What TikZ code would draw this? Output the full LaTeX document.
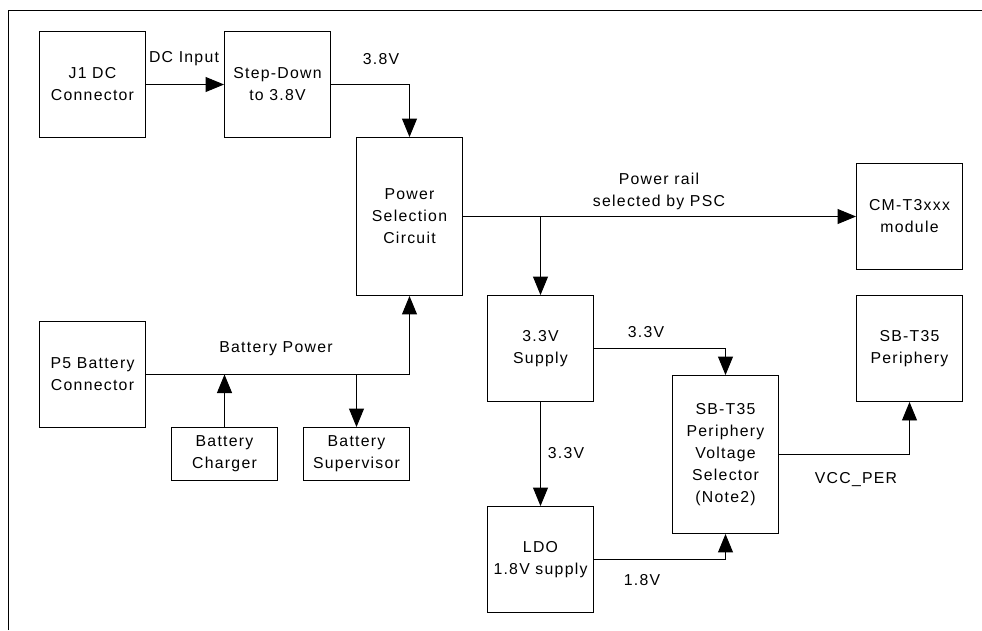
\documentclass[tikz,border=0pt]{standalone}
\usepackage{fontspec}
\setmainfont{Liberation Sans}[LetterSpace=8]
\usepackage{tikz}
\usetikzlibrary{arrows.meta, positioning}

\begin{document}
\begin{tikzpicture}[
  x=0.02cm, y=-0.02cm,
  font=\fontsize{9}{12.5}\selectfont,
  blk/.style={rectangle, draw, line width=0.55pt, minimum width=2.12cm, minimum height=2.12cm, align=center, inner sep=0pt},
  tallblk/.style={blk, minimum height=3.16cm},
  flatblk/.style={blk, minimum height=1.06cm},
  lbl/.style={align=center, inner sep=0pt},
  e/.style={-{Triangle[length=3.7mm, width=3mm]}, line width=0.55pt}]
  \useasboundingbox (0,0) rectangle (982,630);
  \draw[line width=0.55pt] (8.5,630) -- (8.5,10.5) -- (982,10.5);

  % blocks
  \node[blk] (j1) at (92.5,84.5) {J1 DC\\Connector};
  \node[blk] (stepdn) at (277.5,84.5) {Step-Down\\to 3.8V};
  \node[tallblk] (psc) at (409.5,216.5) {Power\\Selection\\Circuit};
  \node[blk] (cm) at (909.5,216.5) {CM-T3xxx\\module};
  \node[blk] (p5) at (92.5,374.5) {P5 Battery\\Connector};
  \node[flatblk] (chg) at (224.5,454) {Battery\\Charger};
  \node[flatblk] (sup) at (356.5,454) {Battery\\Supervisor};
  \node[blk] (sup33) at (540.5,348.5) {3.3V\\Supply};
  \node[blk] (ldo) at (540.5,559.5) {LDO\\1.8V supply};
  \node[tallblk] (sel) at (725.5,454.5) {SB-T35\\Periphery\\Voltage\\Selector\\(Note2)};
  \node[blk] (peri) at (909.5,348.5) {SB-T35\\Periphery};

  % labels
  \node[lbl] (dcin) at (184,59) {DC Input};
  \node[lbl] (v38) at (381,59) {3.8V};
  \node[lbl] (rail) at (659,191) {Power rail\\selected by PSC};
  \node[lbl] (batpwr) at (276,349) {Battery Power};
  \node[lbl] (v33a) at (646,332) {3.3V};
  \node[lbl] (v33b) at (566,453) {3.3V};
  \node[lbl] (v18) at (642,580) {1.8V};
  \node[lbl] (vccper) at (856,480) {VCC\_PER};

  % connections
  \coordinate (tap) at (540.5,216.5);
  \draw[e] (j1) -- (stepdn);
  \draw[e] (stepdn.east) -| (psc.north);
  \draw[e] (psc.east) -- (cm.west);
  \draw[e] (tap) -- (sup33.north);
  \draw[e] (p5.east) -| (psc.south);
  \draw[e] (chg.north) -- (chg.north |- p5.east);
  \draw[e] (sup.north |- p5.east) -- (sup.north);
  \draw[e] (sup33.east) -| (sel.north);
  \draw[e] (sup33.south) -- (ldo.north);
  \draw[e] (ldo.east) -| (sel.south);
  \draw[e] (sel.east) -| (peri.south);
\end{tikzpicture}
\end{document}
